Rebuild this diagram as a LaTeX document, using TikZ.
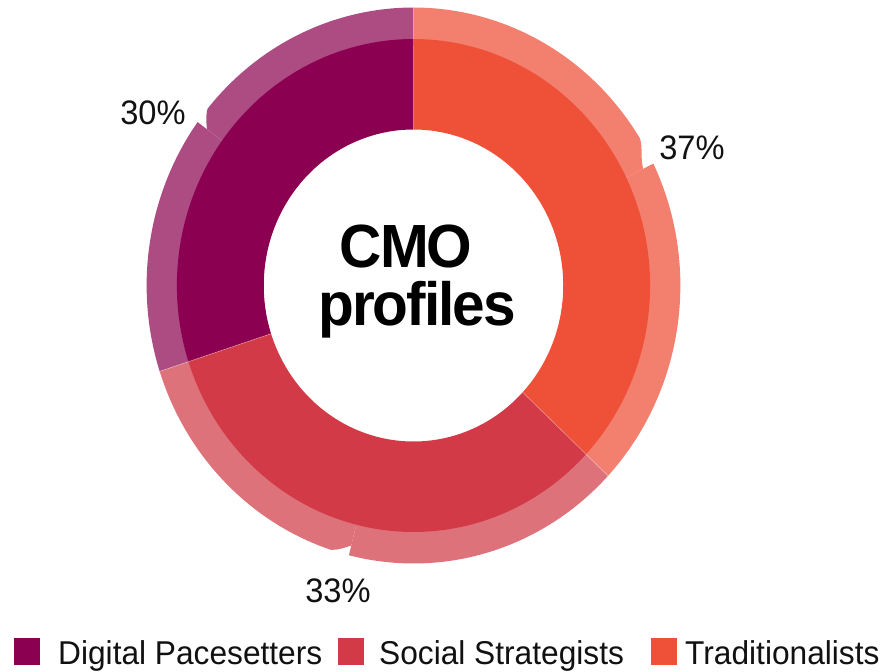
\documentclass[tikz,border=0pt]{standalone}
\usepackage{fontspec}
\setmainfont{Liberation Sans}
\definecolor{pdark}{HTML}{8B0050}
\definecolor{plight}{HTML}{AD4C82}
\definecolor{rdark}{HTML}{D33A47}
\definecolor{rlight}{HTML}{DE727B}
\definecolor{odark}{HTML}{EF5038}
\definecolor{olight}{HTML}{F3806E}
\definecolor{txt}{HTML}{111111}
\tikzset{
  lbl/.style={anchor=base, text=txt, inner sep=0pt, font=\fontsize{34}{40}\selectfont},
  legtxt/.style={anchor=base west, text=txt, inner sep=0pt, font=\fontsize{33}{40}\selectfont},
  legsq/.style={draw=none, inner sep=0pt, minimum width=26pt, minimum height=27pt, anchor=north west},
  title/.style={anchor=base, text=black, inner sep=0pt, font=\fontsize{61}{70}\selectfont\bfseries\addfontfeatures{LetterSpace=-3.5}},
  sep/.style={white, opacity=0.3, line width=0.8pt}
}
\newcommand{\xs}[1]{\scalebox{0.96}[1]{#1}}
\begin{document}
\begin{tikzpicture}[x=1pt,y=-1pt]
\useasboundingbox (0,0) rectangle (889,672);
\begin{scope}[shift={(413.5,285.5)}, x=0.96pt, y=1pt]
  % light outer ring pieces
  \fill[olight] plot[domain=-43.2:26, samples=50] (\x:278) -- plot[domain=26:-43.2, samples=50] (\x:240) -- cycle;
  \fill[olight] (26:266) .. controls (29:270) and (30:276) .. (32:278) -- plot[domain=32:90, samples=50] (\x:278) -- plot[domain=90:26, samples=50] (\x:240) -- cycle;
  \fill[plight] plot[domain=90:140.5, samples=50] (\x:278) .. controls (142:275) and (143:270) .. (144:266) -- plot[domain=144:90, samples=50] (\x:240) -- cycle;
  \fill[plight] plot[domain=144:198, samples=50] (\x:278) -- plot[domain=198:144, samples=50] (\x:240) -- cycle;
  \fill[rlight] plot[domain=198:252, samples=50] (\x:278) .. controls (253.5:276) and (255:271) .. (256:268) -- plot[domain=256:198, samples=50] (\x:240) -- cycle;
  \fill[rlight] plot[domain=256:316.8, samples=50] (\x:278) -- plot[domain=316.8:256, samples=50] (\x:240) -- cycle;
  % dark inner ring
  \fill[odark] plot[domain=-43.2:90, samples=80] (\x:246.5) -- plot[domain=90:-43.2, samples=80] (\x:156) -- cycle;
  \fill[pdark] plot[domain=90:198, samples=80] (\x:246.5) -- plot[domain=198:90, samples=80] (\x:156) -- cycle;
  \fill[rdark] plot[domain=198:316.8, samples=80] (\x:246.5) -- plot[domain=316.8:198, samples=80] (\x:156) -- cycle;
  % thin separators
  \draw[sep] (90:156) -- (90:278);
  \draw[sep] (198:156) -- (198:278);
  \draw[sep] (316.8:156) -- (316.8:278);
\end{scope}
% centre title
\node[title] (t1) at (406,267) {\xs{CMO}};
\node[title] (t2) at (417,325) {\xs{profiles}};
% percentage labels
\node[lbl] (l30) at (153,124) {\xs{30\%}};
\node[lbl] (l37) at (692,159) {\xs{37\%}};
\node[lbl] (l33) at (338,602) {\xs{33\%}};
% legend
\node[legsq, fill=pdark] (s1) at (14,638) {};
\node[legtxt] (g1) at (58,664) {\xs{Digital Pacesetters}};
\node[legsq, fill=rdark] (s2) at (338,638) {};
\node[legtxt] (g2) at (379,664) {\xs{Social Strategists}};
\node[legsq, fill=odark] (s3) at (651,638) {};
\node[legtxt] (g3) at (685,664) {\xs{Traditionalists}};
\end{tikzpicture}
\end{document}
